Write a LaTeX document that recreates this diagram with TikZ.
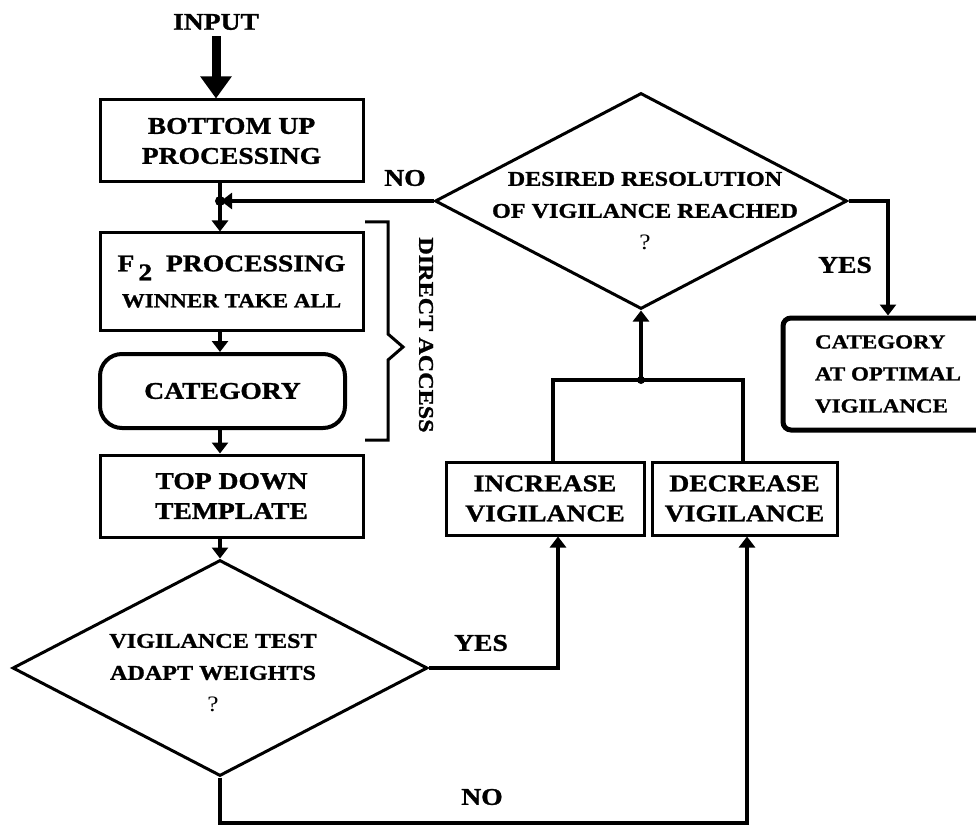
\documentclass[tikz,border=0pt]{standalone}
\usepackage{fontspec}
\setmainfont{Liberation Serif}[FakeStretch=1.15, BoldFeatures={FakeBold=1.2}]
\usetikzlibrary{arrows.meta,shapes.geometric,calc}
\begin{document}
\begin{tikzpicture}[x=1pt,y=-1pt,
  txt/.style={font=\fontsize{24}{30}\selectfont\bfseries, align=center, inner sep=0pt},
  small/.style={txt, font=\fontsize{21}{32}\selectfont\bfseries},
  stepbox/.style={draw, line width=3pt, rectangle, inner sep=0pt, txt},
  catbox/.style={draw, line width=4pt, rounded corners=22pt, inner sep=0pt, txt},
  decision/.style={draw, line width=3pt, diamond, shape aspect=2, inner sep=0pt},
  flow/.style={line width=4pt},
  arr/.style={flow, -{Triangle[width=16pt,length=11pt]}},
  bigarr/.style={line width=9pt, -{Triangle[width=30pt,length=22pt]}},
  joint/.style={circle, fill, inner sep=0pt, minimum size=10pt}
]
\useasboundingbox (0,0) rectangle (976,826);

% ---- left column ----
\node[txt] (input) at (216,22) {INPUT};
\node[stepbox, minimum width=263pt, minimum height=82pt] (bu) at (231.5,141)
  {BOTTOM UP\\PROCESSING};
\coordinate (j1) at (220,201);
\node[stepbox, minimum width=263pt, minimum height=97pt] (f2) at (231.5,281.5)
  {F\,\raisebox{-9pt}{2}\ \ PROCESSING\\[6pt]{\fontsize{20}{24}\selectfont WINNER TAKE ALL}};
\node[catbox, minimum width=245pt, minimum height=74pt] (cat) at (222.5,391) {CATEGORY};
\node[stepbox, minimum width=263pt, minimum height=82pt] (td) at (231.5,496)
  {TOP DOWN\\TEMPLATE};

% direct access bracket
\draw[line width=3pt] (365,222) -- (388,222) -- (388,334) -- (403,347)
  -- (388,360) -- (388,440) -- (365,440);
\node[small, rotate=-90] (da) at (426,335) {DIRECT ACCESS};

% ---- first decision ----
\node[decision, minimum width=415pt, minimum height=216pt] (d1) at (220,668) {};
\node[small] (d1t) at (213,673)
  {VIGILANCE TEST\\ADAPT WEIGHTS\\{\fontsize{22}{24}\selectfont\mdseries ?}};

% ---- vigilance adjustment ----
\node[stepbox, minimum width=198pt, minimum height=73pt] (inc) at (545,498.5)
  {INCREASE\\VIGILANCE};
\node[stepbox, minimum width=185pt, minimum height=73pt] (dec) at (744.5,498.5)
  {DECREASE\\VIGILANCE};
\coordinate (j2) at (641,380);

% ---- second decision ----
\node[decision, minimum width=412pt, minimum height=216pt] (d2) at (641,201) {};
\node[small] (d2t) at (645,211)
  {DESIRED RESOLUTION\\OF VIGILANCE REACHED\\{\fontsize{22}{24}\selectfont\mdseries ?}};

\node[draw, line width=5pt, rounded corners=8pt, inner sep=0pt,
      minimum width=210pt, minimum height=112pt, align=left,
      font=\fontsize{20}{32}\selectfont\bfseries] (cat2) at (888,374)
  {CATEGORY\\AT OPTIMAL\\VIGILANCE};

% ---- labels ----
\node[txt] (no1) at (405,178) {NO};
\node[txt] (yes1) at (845,265) {YES};
\node[txt] (yes2) at (481,643) {YES};
\node[txt] (no2) at (482,797) {NO};

% ---- connectors ----
\draw[bigarr] ($(input.south)+(0,6)$) -- (input.south |- bu.north);
\draw[flow] (bu.south -| j1) -- (j1);
\draw[arr] (j1) -- (j1 |- f2.north);
\draw[arr, shorten >=1pt] (d2.west) -- (j1);
\node[joint] (j1dot) at (j1) {};
\draw[arr] (f2.south -| j1) -- (cat.north -| j1);
\draw[arr] (cat.south -| j1) -- (td.north -| j1);
\draw[arr] (td.south -| j1) -- (d1.north);

\draw[arr] (d1.east) -| ($(inc.south)+(13,0)$);
\draw[arr] (d1.south) -- ++(0,45) -| ($(dec.south)+(2.5,0)$);

\draw[flow] ($(inc.north)+(8,0)$) |- (j2);
\draw[flow] ($(dec.north)+(-1.5,0)$) |- (j2);
\node[joint, minimum size=8pt] (j2dot) at (j2) {};
\draw[arr] (j2) -- (d2.south);

\draw[arr] (d2.east) -| (cat2.north);
\end{tikzpicture}
\end{document}
